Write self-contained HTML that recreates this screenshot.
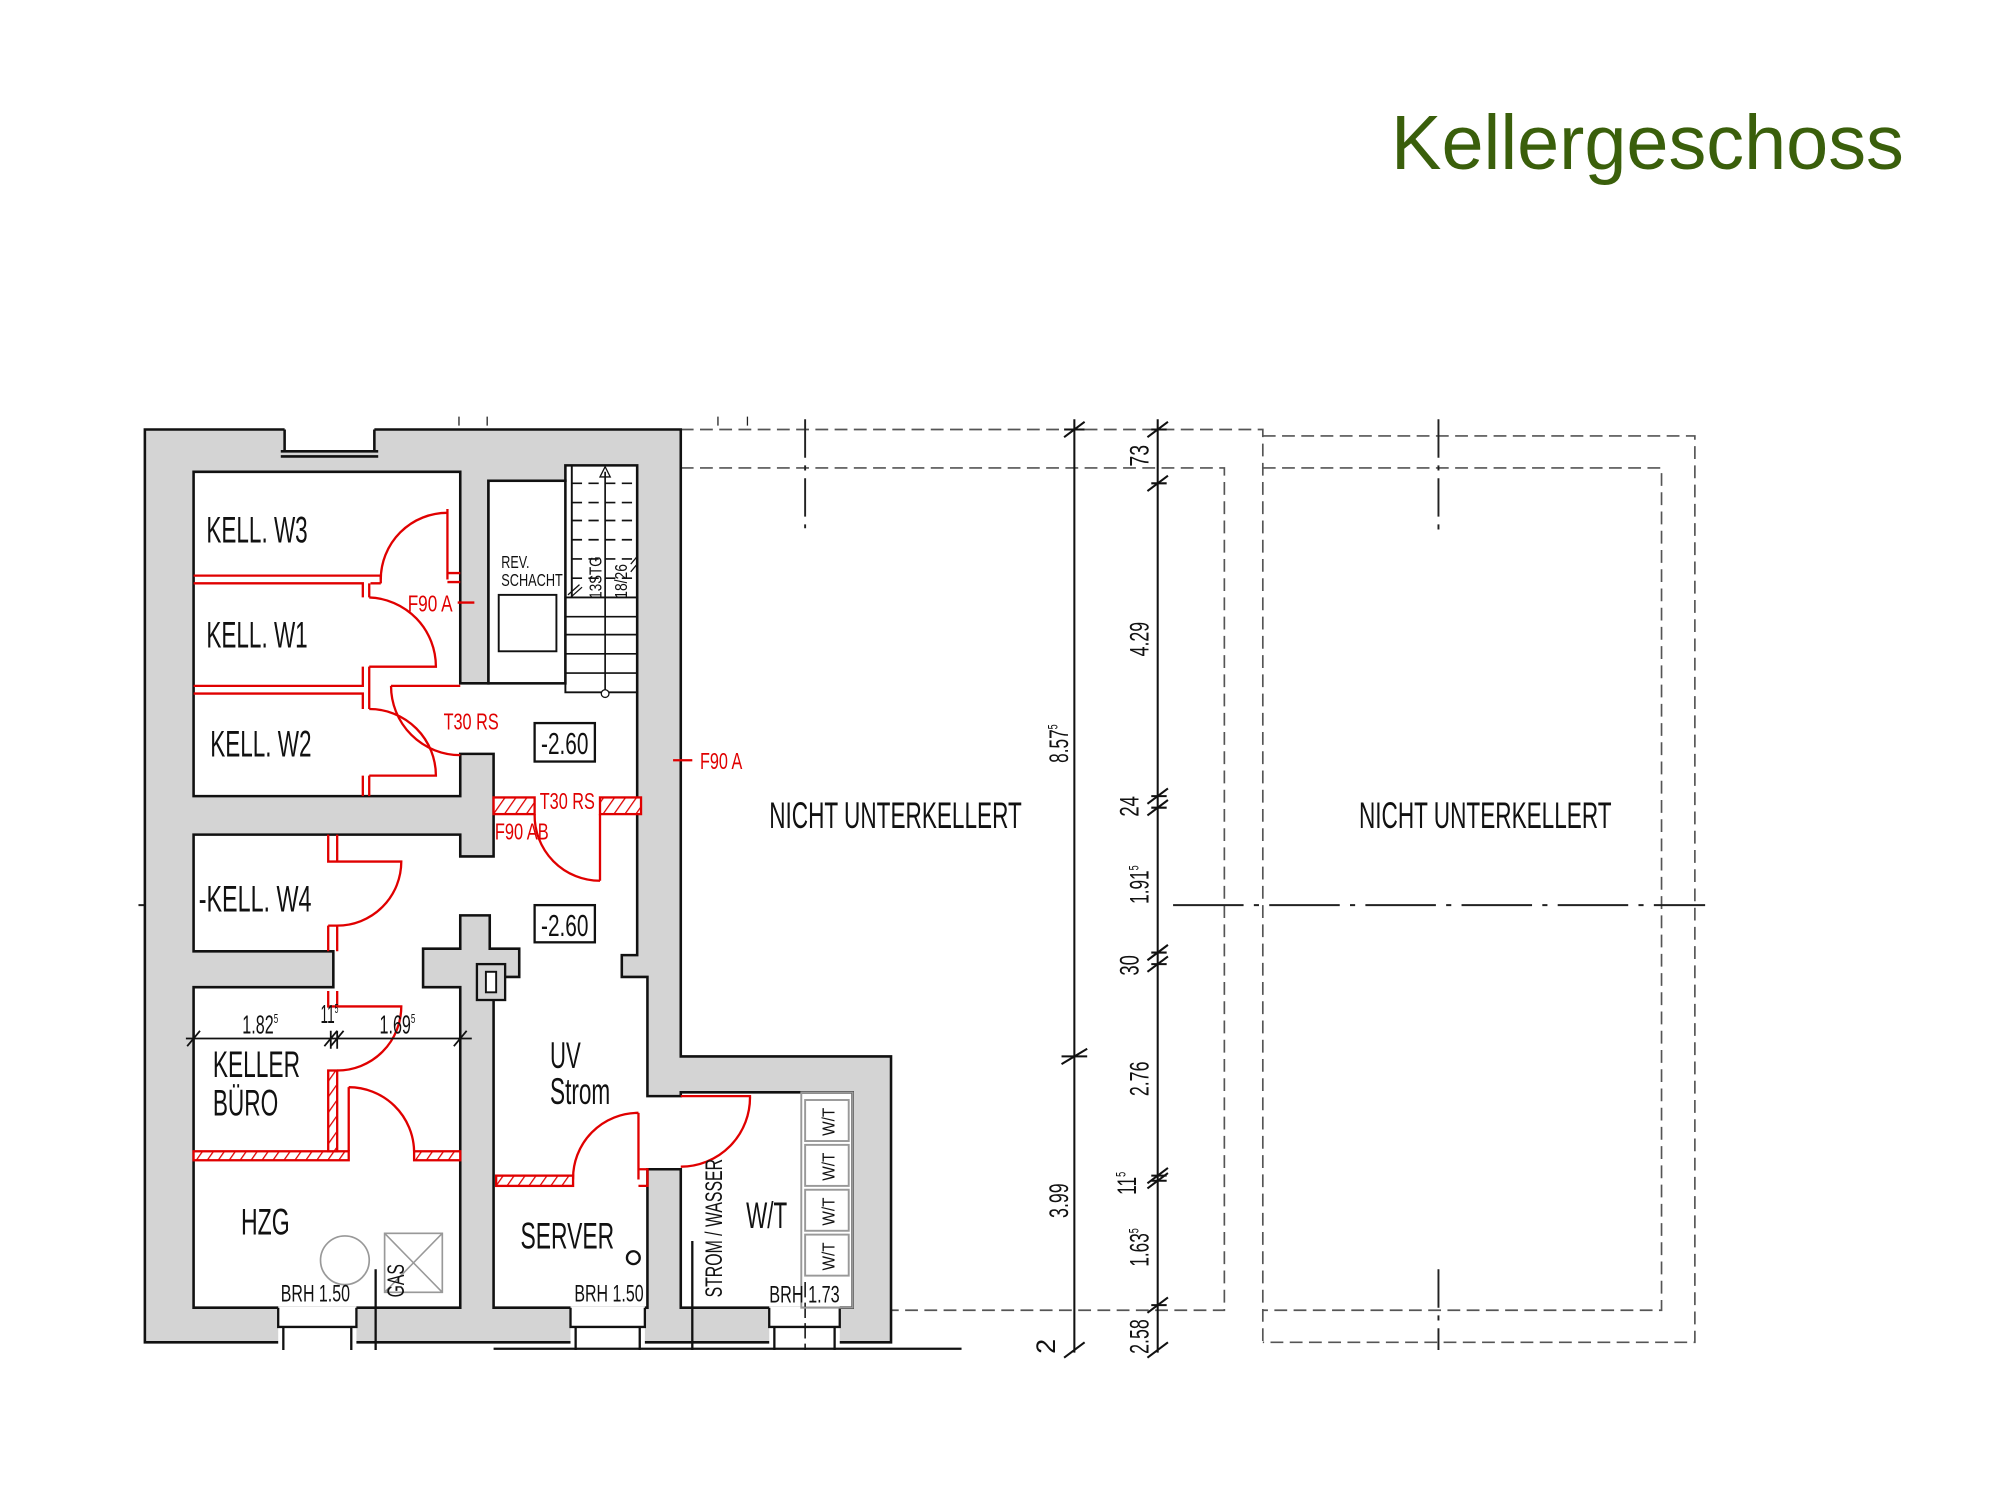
<!DOCTYPE html>
<html><head><meta charset="utf-8"><style>
html,body{margin:0;padding:0;background:#fff;}
svg{display:block;}
text{font-family:"Liberation Sans",sans-serif;}
</style></head><body>
<svg width="2000" height="1500" viewBox="0 0 1560 1170" xmlns="http://www.w3.org/2000/svg">
<rect width="1560" height="1170" fill="#fff"/>
<text x="1085" y="132" font-size="60" fill="#3a5f0b" textLength="400" lengthAdjust="spacingAndGlyphs">Kellergeschoss</text>

<g fill="none" stroke="#555" stroke-width="1.3" stroke-dasharray="10 5">
<path d="M531 335 H985 V1050"/>
<path d="M531 365 H955 V1022 H695"/>
<path d="M985 340 H1322 V1047 H985"/>
<path d="M985 365 H1296 V1022 H985"/>
</g>
<g fill="none" stroke="#222" stroke-width="1.5">
<path d="M628 327 V412" stroke-dasharray="30 6 4 6"/>
<path d="M1122 327 V415" stroke-dasharray="30 6 4 6"/>
<path d="M1122 990 V1053" stroke-dasharray="30 6 4 6"/>
<path d="M915 706 H1330" stroke-dasharray="55 8 4 8"/>
<path d="M108 706 H152"/>
<path d="M358 325 V332 M380 325 V332 M560 325 V332 M583 325 V332" stroke-width="1"/>
</g>

<path d="M113 335 H531 V824 H695 V1047 H113 Z" fill="#d4d4d4" stroke="#111" stroke-width="2"/>
<rect x="222" y="333" width="70" height="20" fill="#fff"/>
<path d="M222 335 V352 H292 V335 M219 352 H295 M219 356 H295" stroke="#111" stroke-width="2" fill="none"/>
<path d="M151 368 H359 V533 H381 V375 H441 V363 H497 V745 H485 V762 H505 V855 H531 V852 H665 V1020 H531 V912 H505 V1020 H385 V762 H405 V740 H382 V714 H359 V740 H330 V770 H359 V1020 H151 V770 H260 V742 H151 V651 H359 V668 H385 V588 H359 V621 H151 Z" fill="#fff" stroke="#111" stroke-width="2"/>
<g fill="#fff" stroke="none">
<rect x="217" y="1019" width="61" height="30"/>
<rect x="445" y="1019" width="58" height="30"/>
<rect x="600" y="1019" width="55" height="30"/>
</g>
<path d="M217 1020 V1035 H278 V1020 M221 1035 V1053 M274 1035 V1053 M445 1020 V1035 H503 V1020 M449 1035 V1053 M499 1035 V1053 M600 1020 V1035 H655 V1020 M604 1035 V1053 M651 1035 V1053 M293 990 V1053 M540 968 V1053 M385 1052 H750" stroke="#111" stroke-width="1.8" fill="none"/>
<path d="M628 1000 V1053" stroke="#111" stroke-width="1.2" stroke-dasharray="12 4"/>

<rect x="381" y="375" width="60" height="158" fill="#fff" stroke="#111" stroke-width="2"/>
<rect x="389" y="464" width="45" height="44" fill="#fff" stroke="#111" stroke-width="1.5"/>
<path d="M446 363 V466 M441 466 H497 V540 H441 Z" fill="none" stroke="#111" stroke-width="1.5"/>
<path d="M441 481 H497 M441 495 H497 M441 510 H497 M441 525 H497" stroke="#111" stroke-width="1.3"/>
<path d="M446 377 H497 M446 392 H497 M446 406 H497 M446 421 H497 M446 436 H497 M446 451 H497" stroke="#111" stroke-width="1.3" stroke-dasharray="8 5"/>
<path d="M472 368 V540" stroke="#111" stroke-width="1.3"/>
<path d="M468 372 L472 364 L476 372 Z" fill="none" stroke="#111" stroke-width="1"/>
<circle cx="472" cy="541" r="3" fill="#fff" stroke="#111" stroke-width="1"/>
<path d="M443 464 L452 456 M445 466 L454 458 M492 440 L497 434 M492 446 L497 440" stroke="#111" stroke-width="1"/>

<g fill="none" stroke="#e00000" stroke-width="1.8">
<path d="M151 449 H297 M151 455 H283 V466 M297 449 V455 M289 455 H297"/>
<path d="M349 397 V452 M349 447 H359 M349 454 H359"/>
<path d="M297 452 A52 52 0 0 1 349 400"/>
<path d="M151 535 H283 V520 M151 541 H283 V553 M288 520 V553 M288 466 V455"/>
<path d="M288 466 A54 54 0 0 1 340 520 H288"/>
<path d="M288 553 A52 52 0 0 1 340 605 H288 M283 605 V621 M288 605 V621"/>
<path d="M305 535 H359 M305 535 A54 54 0 0 0 359 589"/>
<path d="M468 635 V687 M417 635 A51 51 0 0 0 468 687"/>
<path d="M256 651 V672 H263 V651 M263 672 H313 A50 50 0 0 1 263 722 M256 722 V742 M263 722 V742 M256 722 H263"/>
<path d="M256 773 V785 H263 V773 M263 785 H313 A50 50 0 0 1 263 835"/>
<path d="M272 848 V898 M272 848 A51 51 0 0 1 323 898"/>
<path d="M498 868 V920 M447 920 A51 51 0 0 1 498 868 M498 912 H505 V925 H498"/>
<path d="M531 855 H585 A54 54 0 0 1 531 910"/>
<path d="M525 593 H540 M357 470 H370"/>
</g>
<defs>
<pattern id="h" width="7" height="7" patternUnits="userSpaceOnUse" patternTransform="rotate(35)">
<rect width="7" height="7" fill="#fff"/><line x1="0" y1="0" x2="0" y2="7" stroke="#e00000" stroke-width="2"/>
</pattern>
</defs>
<g fill="url(#h)" stroke="#e00000" stroke-width="1.8">
<rect x="385" y="622" width="32" height="13"/>
<rect x="468" y="622" width="32" height="13"/>
<rect x="151" y="898" width="121" height="7"/>
<rect x="323" y="898" width="36" height="7"/>
<rect x="256" y="835" width="7" height="63"/>
<rect x="387" y="917" width="60" height="8"/>
</g>

<circle cx="269" cy="983" r="19" fill="none" stroke="#999" stroke-width="1.3"/>
<rect x="300" y="962" width="45" height="46" fill="none" stroke="#999" stroke-width="1.3"/>
<path d="M300 962 L345 1008 M345 962 L300 1008" stroke="#999" stroke-width="1.2"/>
<circle cx="494" cy="981" r="5" fill="none" stroke="#111" stroke-width="1.8"/>
<rect x="372" y="752" width="22" height="28" fill="#d4d4d4" stroke="#111" stroke-width="1.8"/>
<rect x="379" y="758" width="8" height="16" fill="#fff" stroke="#111" stroke-width="1.5"/>
<g fill="none" stroke="#999" stroke-width="1.5">
<rect x="625" y="852" width="40" height="168"/>
<rect x="628" y="858" width="34" height="32"/>
<rect x="628" y="893" width="34" height="32"/>
<rect x="628" y="928" width="34" height="32"/>
<rect x="628" y="963" width="34" height="32"/>
</g>
<g font-size="14" fill="#111">
<text transform="translate(651,886) rotate(-90)" textLength="22" lengthAdjust="spacingAndGlyphs">W/T</text>
<text transform="translate(651,921) rotate(-90)" textLength="22" lengthAdjust="spacingAndGlyphs">W/T</text>
<text transform="translate(651,956) rotate(-90)" textLength="22" lengthAdjust="spacingAndGlyphs">W/T</text>
<text transform="translate(651,991) rotate(-90)" textLength="22" lengthAdjust="spacingAndGlyphs">W/T</text>
</g>

<g fill="#111" font-size="29">
<text x="161" y="423" textLength="79" lengthAdjust="spacingAndGlyphs">KELL. W3</text>
<text x="161" y="505" textLength="79" lengthAdjust="spacingAndGlyphs">KELL. W1</text>
<text x="164" y="590" textLength="79" lengthAdjust="spacingAndGlyphs">KELL. W2</text>
<text x="155" y="711" textLength="88" lengthAdjust="spacingAndGlyphs">-KELL. W4</text>
<text x="166" y="840" textLength="68" lengthAdjust="spacingAndGlyphs">KELLER</text>
<text x="166" y="870" textLength="51" lengthAdjust="spacingAndGlyphs">BÜRO</text>
<text x="188" y="963" textLength="38" lengthAdjust="spacingAndGlyphs">HZG</text>
<text x="429" y="833" textLength="24" lengthAdjust="spacingAndGlyphs">UV</text>
<text x="429" y="861" textLength="47" lengthAdjust="spacingAndGlyphs">Strom</text>
<text x="406" y="974" textLength="73" lengthAdjust="spacingAndGlyphs">SERVER</text>
<text x="582" y="958" textLength="32" lengthAdjust="spacingAndGlyphs">W/T</text>
<text x="600" y="646" textLength="197" lengthAdjust="spacingAndGlyphs">NICHT UNTERKELLERT</text>
<text x="1060" y="646" textLength="197" lengthAdjust="spacingAndGlyphs">NICHT UNTERKELLERT</text>
</g>
<g fill="#111" font-size="19">
<text transform="translate(563,1012) rotate(-90)" textLength="108" lengthAdjust="spacingAndGlyphs">STROM / WASSER</text>
<text transform="translate(315,1012) rotate(-90)" textLength="26" lengthAdjust="spacingAndGlyphs">GAS</text>
<text x="219" y="1015" textLength="54" lengthAdjust="spacingAndGlyphs">BRH 1.50</text>
<text x="448" y="1015" textLength="54" lengthAdjust="spacingAndGlyphs">BRH 1.50</text>
<text x="600" y="1016" textLength="55" lengthAdjust="spacingAndGlyphs">BRH 1.73</text>
</g>
<rect x="417" y="564" width="47" height="30" fill="#fff" stroke="#111" stroke-width="1.8"/>
<rect x="417" y="706" width="47" height="29" fill="#fff" stroke="#111" stroke-width="1.8"/>
<g fill="#111" font-size="24">
<text x="422" y="588" textLength="37" lengthAdjust="spacingAndGlyphs">-2.60</text>
<text x="422" y="730" textLength="37" lengthAdjust="spacingAndGlyphs">-2.60</text>
</g>
<g fill="#111" font-size="14">
<text x="391" y="443" textLength="22" lengthAdjust="spacingAndGlyphs">REV.</text>
<text x="391" y="457" textLength="48" lengthAdjust="spacingAndGlyphs">SCHACHT</text>
<text transform="translate(469,467) rotate(-90)" textLength="33" lengthAdjust="spacingAndGlyphs">13STG</text>
<text transform="translate(489,467) rotate(-90)" textLength="27" lengthAdjust="spacingAndGlyphs">18/26</text>
</g>
<g fill="#e00000" font-size="18">
<text x="318" y="477" textLength="35" lengthAdjust="spacingAndGlyphs">F90 A</text>
<text x="346" y="569" textLength="43" lengthAdjust="spacingAndGlyphs">T30 RS</text>
<text x="421" y="631" textLength="43" lengthAdjust="spacingAndGlyphs">T30 RS</text>
<text x="386" y="655" textLength="42" lengthAdjust="spacingAndGlyphs">F90 AB</text>
<text x="546" y="600" textLength="33" lengthAdjust="spacingAndGlyphs">F90 A</text>
</g>

<path d="M145 810 H368 M146 816 L156 804 M253 816 L263 804 M258 816 L268 804 M354 816 L364 804 M151 804 V818 M258 804 V818 M263 804 V818 M359 804 V818" stroke="#111" stroke-width="1.4" fill="none"/>
<g fill="#111" font-size="20">
<text x="189" y="806" textLength="28" lengthAdjust="spacingAndGlyphs">1.82<tspan font-size="10" dy="-8">5</tspan></text>
<text x="250" y="798" textLength="14" lengthAdjust="spacingAndGlyphs">11<tspan font-size="10" dy="-8">5</tspan></text>
<text x="296" y="806" textLength="28" lengthAdjust="spacingAndGlyphs">1.69<tspan font-size="10" dy="-8">5</tspan></text>
</g>

<g stroke="#111" stroke-width="1.6" fill="none">
<path d="M838 327 V1055"/>
<path d="M830 341 L846 329 M828 830 L848 818 M830 1059 L846 1047"/>
<path d="M903 327 V1055"/>
<path d="M895 341 L911 329 M895 383 L911 371 M895 627 L911 615 M895 636 L911 624 M895 749 L911 737 M895 758 L911 746 M895 923 L911 911 M895 927 L911 915 M895 1024 L911 1012 M895 1059 L911 1047"/>
<path d="M898 335 H910 M898 377 H910 M898 621 H910 M898 630 H910 M898 743 H910 M898 752 H910 M898 917 H910 M898 921 H910 M898 1018 H910 M830 335 H846 M828 824 H848"/>
</g>
<g fill="#111" font-size="21">
<text transform="translate(833,595) rotate(-90)" textLength="30" lengthAdjust="spacingAndGlyphs">8.57<tspan font-size="11" dy="-8">5</tspan></text>
<text transform="translate(833,950) rotate(-90)" textLength="27" lengthAdjust="spacingAndGlyphs">3.99</text>
<text transform="translate(823,1056) rotate(-90)">2</text>
<text transform="translate(896,364) rotate(-90)" textLength="17" lengthAdjust="spacingAndGlyphs">73</text>
<text transform="translate(896,512) rotate(-90)" textLength="27" lengthAdjust="spacingAndGlyphs">4.29</text>
<text transform="translate(888,637) rotate(-90)" textLength="16" lengthAdjust="spacingAndGlyphs">24</text>
<text transform="translate(896,705) rotate(-90)" textLength="30" lengthAdjust="spacingAndGlyphs">1.91<tspan font-size="11" dy="-8">5</tspan></text>
<text transform="translate(888,761) rotate(-90)" textLength="16" lengthAdjust="spacingAndGlyphs">30</text>
<text transform="translate(896,855) rotate(-90)" textLength="27" lengthAdjust="spacingAndGlyphs">2.76</text>
<text transform="translate(886,932) rotate(-90)" textLength="18" lengthAdjust="spacingAndGlyphs">11<tspan font-size="11" dy="-8">5</tspan></text>
<text transform="translate(896,988) rotate(-90)" textLength="30" lengthAdjust="spacingAndGlyphs">1.63<tspan font-size="11" dy="-8">5</tspan></text>
<text transform="translate(896,1056) rotate(-90)" textLength="27" lengthAdjust="spacingAndGlyphs">2.58</text>
</g>
</svg>
</body></html>
